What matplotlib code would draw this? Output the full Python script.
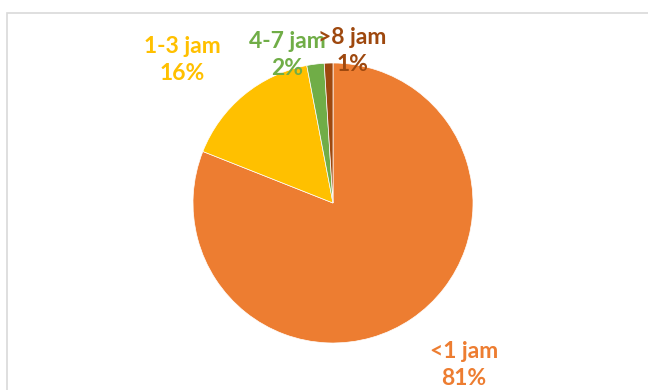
import matplotlib.pyplot as plt
from matplotlib.patches import Rectangle

# data
labels = ["<1 jam", "1-3 jam", "4-7 jam", ">8 jam"]
values = [81, 16, 2, 1]
colors = ["#ED7D31", "#FFC000", "#70AD47", "#9E480E"]
# label anchor positions (pixel coords, from top-left)
label_pos = [(464, 365), (182, 60), (287, 55), (352, 51)]

W, H = 648, 390
fig = plt.figure(figsize=(W / 100, H / 100), dpi=100)
ax = fig.add_axes([0, 0, 1, 1])

# chart frame (cropped on right/bottom)
ax.add_patch(Rectangle((7, -10), 700, H - 13 + 10, fill=False,
                       edgecolor="#D9D9D9", linewidth=1.2))

ax.pie(values, colors=colors, startangle=90, counterclock=False,
       center=(333, H - 203), radius=140, frame=True,
       wedgeprops=dict(edgecolor="white", linewidth=0.5))
ax.set_xlim(0, W)
ax.set_ylim(0, H)
ax.axis("off")

for lab, v, c, (x, y) in zip(labels, values, colors, label_pos):
    ax.text(x, H - y, lab + "\n" + str(v) + "%", color=c, ha="center", va="center",
            fontsize=16.5, fontweight="bold", family="Lato", linespacing=1.35)

fig.savefig("out.png", dpi=100)
